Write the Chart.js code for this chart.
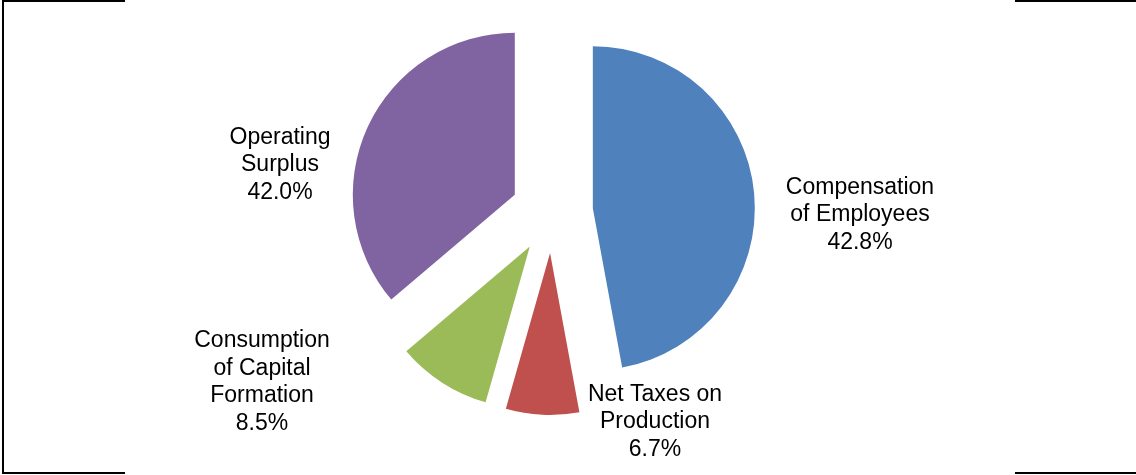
<!DOCTYPE html>
<html>
<head>
<meta charset="utf-8">
<script src="https://cdn.jsdelivr.net/npm/chart.js@4"></script>
<style>
    html, body { margin: 0; padding: 0; background: #fff; }
    #wrap { position: relative; width: 1136px; height: 475px; }
</style>
</head>
<body>
<div id="wrap"><canvas id="pieChart" width="1136" height="475"></canvas></div>
<script>
const categories = [
    ['Compensation', 'of Employees'],
    ['Net Taxes on', 'Production'],
    ['Consumption', 'of Capital', 'Formation'],
    ['Operating', 'Surplus']
];
const sliceValues = [47.1, 7.3, 9.4, 36.2];
// Percent text as printed on the labels
const shareLabels = ['42.8%', '6.7%', '8.5%', '42.0%'];

// Label centre relative to the pie centre
const labelOffsets = [
    [308, 3],
    [103, 210],
    [-290, 170],
    [-272, -47]
];
const EXPLODE = 41; // px each slice is pulled out

// Pull every slice out along its middle angle (keeps radius unchanged,
// unlike the built-in offset option)
const explode = {
    id: 'explode',
    afterDatasetUpdate(chart, args) {
        const meta = args.meta;
        meta.data.forEach(arc => {
            const mid = (arc.startAngle + arc.endAngle) / 2;
            arc.x += Math.cos(mid) * EXPLODE;
            arc.y += Math.sin(mid) * EXPLODE;
        });
    }
};

// Draw the labels next to each slice
const sliceLabels = {
    id: 'sliceLabels',
    afterDatasetsDraw(chart) {
        const ctx = chart.ctx;
        const area = chart.chartArea;
        const px = (area.left + area.right) / 2;
        const py = (area.top + area.bottom) / 2;
        const lineH = 27.5;
        ctx.save();
        ctx.font = '23px "Liberation Sans", Arial, sans-serif';
        ctx.fillStyle = '#000';
        ctx.textAlign = 'center';
        ctx.textBaseline = 'middle';
        categories.forEach((cat, i) => {
            const lines = cat.concat(shareLabels[i]);
            const cx = px + labelOffsets[i][0];
            const cy = py + labelOffsets[i][1];
            const top = cy - (lines.length - 1) * lineH / 2;
            lines.forEach((t, j) => ctx.fillText(t, cx, top + j * lineH));
        });
        ctx.restore();
    }
};

// Partial frame lines at the page edges
const frameLines = {
    id: 'frameLines',
    afterDraw(chart) {
        const ctx = chart.ctx;
        ctx.save();
        ctx.strokeStyle = '#000';
        ctx.lineWidth = 2;
        ctx.beginPath();
        ctx.moveTo(125, 1); ctx.lineTo(3, 1); ctx.lineTo(3, 473); ctx.lineTo(125, 473);
        ctx.moveTo(1015, 1); ctx.lineTo(1136, 1);
        ctx.moveTo(1015, 473); ctx.lineTo(1136, 473);
        ctx.stroke();
        ctx.restore();
    }
};

new Chart(document.getElementById('pieChart').getContext('2d'), {
    type: 'pie',
    data: {
        labels: categories.map(c => c.join(' ')),
        datasets: [{
            data: sliceValues,
            backgroundColor: ['#4F81BD', '#C0504D', '#9BBB59', '#8064A2'],
            borderWidth: 0,
            hoverOffset: 0
        }]
    },
    options: {
        responsive: false,
        animation: false,
        radius: 162,
        layout: { padding: { left: 0, right: 32, top: 0, bottom: 51 } },
        events: [],
        plugins: {
            legend: { display: false },
            tooltip: { enabled: false }
        }
    },
    plugins: [explode, sliceLabels, frameLines]
});
</script>
</body>
</html>
